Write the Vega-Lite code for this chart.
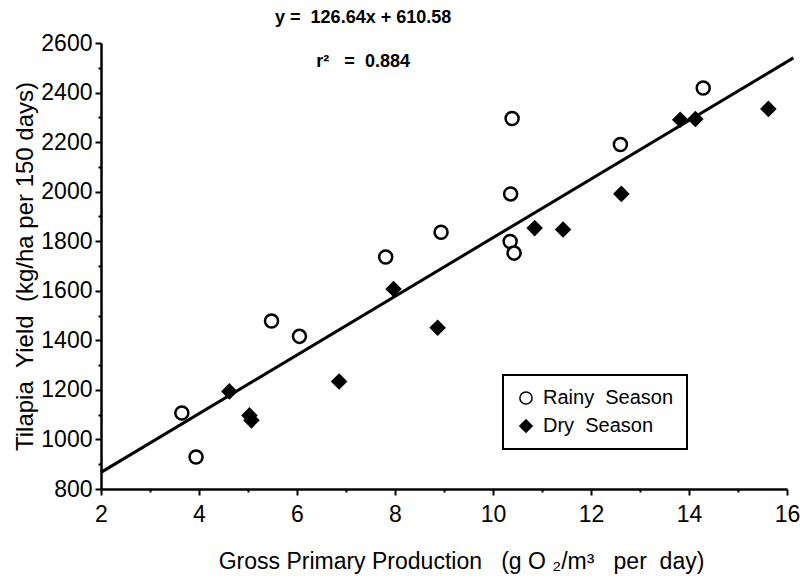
{
  "$schema": "https://vega.github.io/schema/vega-lite/v6.json",
  "width": 686,
  "height": 446,
  "autosize": {"type": "none"},
  "padding": {"left": 101, "top": 43, "right": 13, "bottom": 97},
  "background": "white",
  "config": {
    "view": {"stroke": null},
    "font": "Liberation Sans",
    "axis": {
      "grid": false,
      "domainColor": "black",
      "domainWidth": 2.5,
      "tickColor": "black",
      "tickWidth": 2,
      "labelFont": "Liberation Sans",
      "labelFontSize": 23,
      "labelColor": "black",
      "titleFont": "Liberation Sans",
      "titleColor": "black",
      "titleFontWeight": "normal"
    },
    "legend": {
      "labelFont": "Liberation Sans",
      "labelFontSize": 20,
      "labelColor": "black",
      "strokeColor": "black",
      "strokeWidth": 2
    }
  },
  "datasets": {
    "points": [
      {"x": 3.65, "y": 1107, "season": "Rainy Season"},
      {"x": 3.94, "y": 929, "season": "Rainy Season"},
      {"x": 5.48, "y": 1478, "season": "Rainy Season"},
      {"x": 6.05, "y": 1416, "season": "Rainy Season"},
      {"x": 7.81, "y": 1736, "season": "Rainy Season"},
      {"x": 8.94, "y": 1836, "season": "Rainy Season"},
      {"x": 10.39, "y": 2295, "season": "Rainy Season"},
      {"x": 10.36, "y": 1991, "season": "Rainy Season"},
      {"x": 10.35, "y": 1799, "season": "Rainy Season"},
      {"x": 10.43, "y": 1752, "season": "Rainy Season"},
      {"x": 12.6, "y": 2190, "season": "Rainy Season"},
      {"x": 14.29, "y": 2418, "season": "Rainy Season"},
      {"x": 4.62, "y": 1194, "season": "Dry Season"},
      {"x": 5.03, "y": 1097, "season": "Dry Season"},
      {"x": 5.07, "y": 1077, "season": "Dry Season"},
      {"x": 6.86, "y": 1234, "season": "Dry Season"},
      {"x": 7.97, "y": 1607, "season": "Dry Season"},
      {"x": 8.87, "y": 1451, "season": "Dry Season"},
      {"x": 10.85, "y": 1853, "season": "Dry Season"},
      {"x": 11.43, "y": 1847, "season": "Dry Season"},
      {"x": 12.62, "y": 1991, "season": "Dry Season"},
      {"x": 13.82, "y": 2290, "season": "Dry Season"},
      {"x": 14.13, "y": 2293, "season": "Dry Season"},
      {"x": 15.62, "y": 2334, "season": "Dry Season"}
    ],
    "fit": [
      {"x": 2, "y": 867},
      {"x": 16.13, "y": 2540}
    ],
    "notes": [
      {"x": 7.35, "y": 2702, "label": "y =\u00a0\u00a0126.64x + 610.58"},
      {"x": 7.35, "y": 2525, "label": "r²\u00a0\u00a0\u00a0=\u00a0\u00a00.884"}
    ]
  },
  "encoding": {
    "x": {
      "field": "x",
      "type": "quantitative",
      "scale": {"domain": [2, 16], "nice": false, "zero": false},
      "axis": {
        "title": "Gross Primary Production\u00a0\u00a0\u00a0(g\u00a0O\u00a0₂/m³\u00a0\u00a0\u00a0per\u00a0\u00a0day)",
        "titleFontSize": 23,
        "titleX": 360,
        "titlePadding": 24,
        "values": [2, 3, 4, 5, 6, 7, 8, 9, 10, 11, 12, 13, 14, 15, 16],
        "labelExpr": "datum.value % 2 == 0 ? datum.label : ''",
        "tickSize": {"condition": {"test": "datum.value % 2 == 0", "value": 6}, "value": 3},
        "labelPadding": 8,
        "labelFlush": false,
        "labelOverlap": false
      }
    },
    "y": {
      "field": "y",
      "type": "quantitative",
      "scale": {"domain": [800, 2600], "nice": false, "zero": false},
      "axis": {
        "title": "Tilapia\u00a0\u00a0Yield\u00a0\u00a0(kg/ha per 150 days)",
        "titleFontSize": 24,
        "titlePadding": 3,
        "values": [800, 900, 1000, 1100, 1200, 1300, 1400, 1500, 1600, 1700, 1800, 1900, 2000, 2100, 2200, 2300, 2400, 2500, 2600],
        "labelExpr": "datum.value % 200 == 0 ? datum.value : ''",
        "tickSize": {"condition": {"test": "datum.value % 200 == 0", "value": 6}, "value": 3},
        "labelPadding": 3,
        "labelFlush": false,
        "labelOverlap": false
      }
    }
  },
  "layer": [
    {
      "data": {"name": "fit"},
      "mark": {"type": "line", "color": "black", "strokeWidth": 3}
    },
    {
      "data": {"name": "points"},
      "mark": {"type": "point", "filled": true, "stroke": "black", "strokeWidth": 2.5, "opacity": 1, "size": 170},
      "encoding": {
        "shape": {
          "field": "season",
          "type": "nominal",
          "scale": {"domain": ["Rainy Season", "Dry Season"], "range": ["circle", "diamond"]},
          "legend": {
            "title": null,
            "orient": "none",
            "legendX": 402,
            "legendY": 332,
            "strokeColor": "black",
            "fillColor": "white",
            "padding": 13,
            "rowPadding": 8,
            "symbolSize": 150,
            "labelOffset": 7,
            "labelExpr": "replace(datum.label, ' ', '\u00a0\u00a0') + '\u00a0\u00a0\u00a0\u00a0\u00a0'",
            "encode": {
              "symbols": {
                "update": {
                  "stroke": {"value": "black"},
                  "strokeWidth": {"value": 2.5},
                  "opacity": {"value": 1}
                }
              }
            }
          }
        },
        "fill": {
          "field": "season",
          "type": "nominal",
          "scale": {"domain": ["Rainy Season", "Dry Season"], "range": ["white", "black"]},
          "legend": {
            "title": null,
            "orient": "none",
            "legendX": 402,
            "legendY": 332,
            "strokeColor": "black",
            "fillColor": "white",
            "padding": 13,
            "rowPadding": 8,
            "symbolSize": 150,
            "labelOffset": 7,
            "labelExpr": "replace(datum.label, ' ', '\u00a0\u00a0') + '\u00a0\u00a0\u00a0\u00a0\u00a0'",
            "encode": {
              "symbols": {
                "update": {
                  "stroke": {"value": "black"},
                  "strokeWidth": {"value": 2.5},
                  "opacity": {"value": 1}
                }
              }
            }
          }
        }
      }
    },
    {
      "data": {"name": "notes"},
      "mark": {"type": "text", "font": "Liberation Sans", "fontWeight": "bold", "fontSize": 18, "color": "black", "align": "center", "baseline": "middle"},
      "encoding": {
        "text": {"field": "label", "type": "nominal"}
      }
    }
  ]
}
